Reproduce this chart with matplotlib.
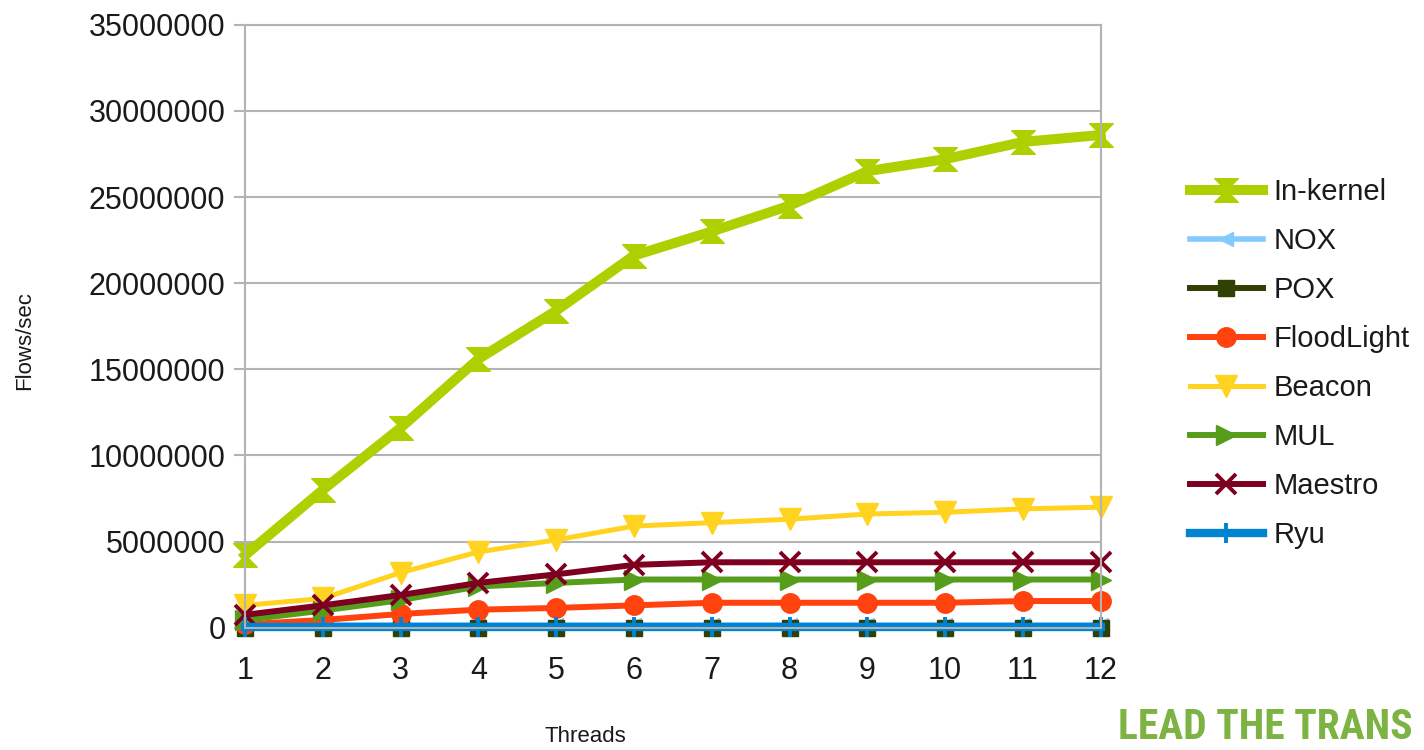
import matplotlib
matplotlib.use("Agg")
import matplotlib.pyplot as plt
from matplotlib.path import Path

plt.rcParams['font.family'] = ['Liberation Sans', 'DejaVu Sans']

threads = [1, 2, 3, 4, 5, 6, 7, 8, 9, 10, 11, 12]

in_kernel = [4.2e6, 8.0e6, 11.6e6, 15.6e6, 18.4e6, 21.6e6, 23.0e6, 24.5e6, 26.5e6, 27.2e6, 28.2e6, 28.6e6]
nox = [0.15e6, 0.15e6, 0.15e6, 0.15e6, 0.15e6, 0.15e6, 0.15e6, 0.15e6, 0.15e6, 0.15e6, 0.15e6, 0.15e6]
pox = [0.0, 0.0, 0.0, 0.0, 0.0, 0.0, 0.0, 0.0, 0.0, 0.0, 0.0, 0.0]
floodlight = [0.2e6, 0.45e6, 0.8e6, 1.05e6, 1.15e6, 1.3e6, 1.45e6, 1.45e6, 1.45e6, 1.45e6, 1.55e6, 1.55e6]
beacon = [1.3e6, 1.7e6, 3.2e6, 4.4e6, 5.1e6, 5.9e6, 6.1e6, 6.3e6, 6.6e6, 6.7e6, 6.9e6, 7.0e6]
mul = [0.45e6, 1.0e6, 1.6e6, 2.4e6, 2.6e6, 2.8e6, 2.8e6, 2.8e6, 2.8e6, 2.8e6, 2.8e6, 2.8e6]
maestro = [0.75e6, 1.3e6, 1.9e6, 2.6e6, 3.1e6, 3.65e6, 3.8e6, 3.8e6, 3.8e6, 3.8e6, 3.8e6, 3.8e6]
ryu = [0.05e6, 0.05e6, 0.05e6, 0.05e6, 0.05e6, 0.05e6, 0.05e6, 0.05e6, 0.05e6, 0.05e6, 0.05e6, 0.05e6]

y_ticks = [0, 5000000, 10000000, 15000000, 20000000, 25000000, 30000000, 35000000]

# hourglass marker: two triangles meeting at the centre
hourglass = Path([(-1, 1), (1, 1), (-1, -1), (1, -1), (-1, 1)],
                 [Path.MOVETO, Path.LINETO, Path.LINETO, Path.LINETO, Path.CLOSEPOLY])

series = [
    ("In-kernel", in_kernel, "#aecf00", hourglass, 17, 7.2),
    ("NOX", nox, "#83caff", "<", 10, 4.0),
    ("POX", pox, "#314004", "s", 12, 4.3),
    ("FloodLight", floodlight, "#ff420e", "o", 14, 4.3),
    ("Beacon", beacon, "#ffd320", "v", 16, 3.6),
    ("MUL", mul, "#579d1c", ">", 14, 4.3),
    ("Maestro", maestro, "#7e0021", "x", 15, 4.3),
    ("Ryu", ryu, "#0084d1", "|", 15, 6.0),
]

fig = plt.figure(figsize=(14.24, 7.5), dpi=100)
ax = fig.add_axes([0.172, 0.163, 0.601, 0.804])

for name, vals, color, marker, ms, lw in series:
    mew = 2.8 if marker in ("x", "|") else 1.0
    ax.plot(threads, vals, color=color, marker=marker, markersize=ms, linewidth=lw,
            markeredgewidth=mew, markeredgecolor=color, label=name, clip_on=False)

ax.set_xlim(1, 12)
ax.set_ylim(0, 35000000)
ax.set_xticks(threads)
ax.set_yticks(y_ticks)
ax.set_yticklabels([str(v) for v in y_ticks])
ax.grid(axis='y', color='#b3b3b3', linewidth=1.5)
ax.set_axisbelow(True)
for side in ax.spines:
    ax.spines[side].set_color('#b3b3b3')
    ax.spines[side].set_linewidth(1.5)
ax.tick_params(axis='y', colors='#b3b3b3', length=8, width=1.5, labelcolor='#1a1a1a',
               labelsize=22, pad=6)
ax.tick_params(axis='x', colors='#b3b3b3', length=0, labelcolor='#1a1a1a',
               labelsize=22, pad=20)

fig.text(585 / 1424, 1 - 737 / 750, "Threads", fontsize=16, color='#1a1a1a',
         ha='center', va='center')
fig.text(25 / 1424, 1 - 340 / 750, "Flows/sec", fontsize=16, color='#1a1a1a',
         ha='center', va='center', rotation=90)

leg = fig.legend(loc='upper left', bbox_to_anchor=(0.8357, 0.763), frameon=False,
                 fontsize=21, handlelength=2.5, handletextpad=0.35, labelspacing=0.72,
                 borderaxespad=0, borderpad=0)
for t in leg.get_texts():
    t.set_color('#1a1a1a')

fig.text(1118 / 1424, 0.003, "LEAD THE TRANS", fontsize=30, fontweight='bold',
         fontstretch='condensed', family=['Roboto Condensed', 'DejaVu Sans'],
         color='#7cb342', va='bottom', ha='left')

fig.savefig("out.png", dpi=100)
